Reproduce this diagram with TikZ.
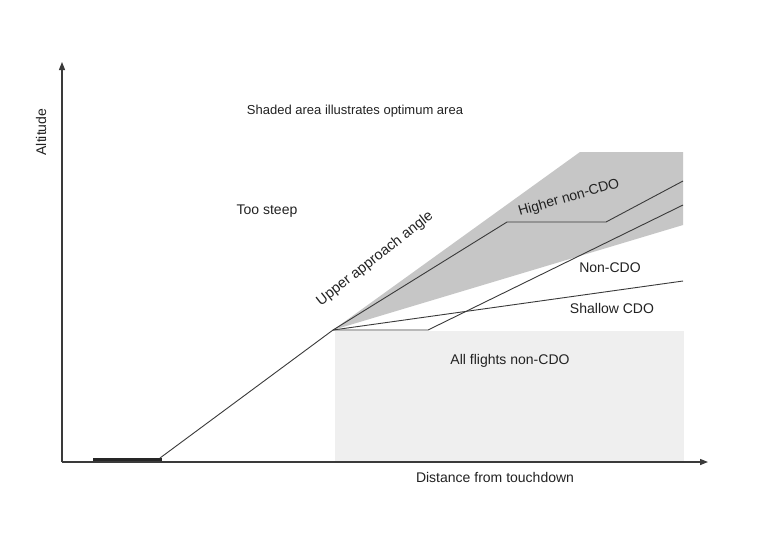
\documentclass[tikz,border=0pt]{standalone}
\usepackage{fontspec}
\setmainfont{Liberation Sans}
\usetikzlibrary{arrows.meta}
\definecolor{darkshade}{HTML}{C6C6C6}
\definecolor{lightshade}{HTML}{EFEFEF}
\definecolor{inkline}{HTML}{3A3A3A}
\definecolor{inktext}{HTML}{222222}
\tikzset{
  axis/.style={line width=1.3pt, draw=inkline, -{Triangle[length=8pt,width=6pt]}},
  path/.style={line width=0.9pt, draw=inkline, line join=round},
  lbl/.style={inner sep=0pt, text=inktext, font=\fontsize{14}{16}\selectfont},
}
\begin{document}
\begin{tikzpicture}[x=1pt,y=-1pt]
\useasboundingbox[fill=white] (0,0) rectangle (767,558);
% named points
\coordinate (O) at (62,462);
\coordinate (ytop) at (62,62);
\coordinate (xend) at (708,462);
\coordinate (rw1) at (93,459);
\coordinate (rw2) at (162,459);
\coordinate (gs) at (160,458);
\coordinate (V) at (333,330);
\coordinate (upA) at (580,152);
\coordinate (upB) at (683,152);
\coordinate (upC) at (683,225);
\coordinate (h1) at (507,222);
\coordinate (h2) at (606,222);
\coordinate (h3) at (683,181);
\coordinate (n1) at (428,330);
\coordinate (n2) at (683,205);
\coordinate (s1) at (683,281);
% shaded areas
\fill[lightshade] (335,331) rectangle (684,461);
\fill[darkshade] (V) -- (upA) -- (upB) -- (upC) -- cycle;
% axes
\draw[axis] (O) -- (ytop);
\draw[axis] (O) -- (xend);
% runway
\draw[line width=3pt, draw=black!85] (rw1) -- (rw2);
% paths
\draw[path] (gs) -- (V);
\draw[path] (V) -- (h1) -- (h2) -- (h3);
\draw[path] (V) -- (n1) -- (n2);
\draw[path] (V) -- (s1);
% labels
\node[lbl, rotate=90] (alt) at (41,132) {Altitude};
\node[lbl, font=\fontsize{13}{15}\selectfont] (shaded) at (355,111) {Shaded area illustrates optimum area};
\node[lbl] (steep) at (267,211) {Too steep};
\node[lbl, rotate=38, font=\fontsize{14.5}{16}\selectfont] (upper) at (375,259) {Upper approach angle};
\node[lbl, rotate=16] (higher) at (569,198) {Higher non-CDO};
\node[lbl] (noncdo) at (610,268) {Non-CDO};
\node[lbl] (shallow) at (612,308) {Shallow CDO};
\node[lbl] (all) at (510,361) {All flights non-CDO};
\node[lbl] (dist) at (495,477) {Distance from touchdown};
\end{tikzpicture}
\end{document}
